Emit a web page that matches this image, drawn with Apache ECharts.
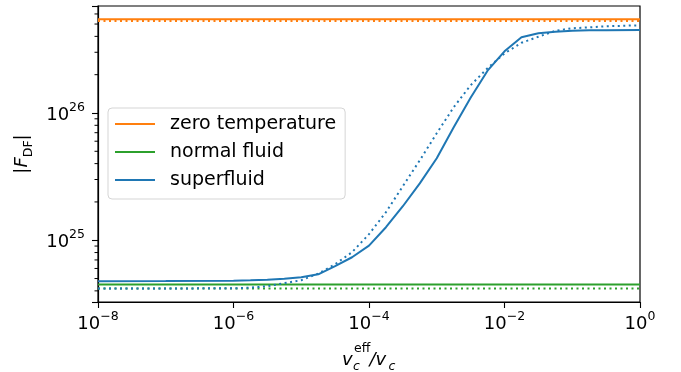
<!DOCTYPE html>
<html>
<head>
<meta charset="utf-8">
<script src="https://cdn.jsdelivr.net/npm/echarts@6/dist/echarts.min.js"></script>
<style>
  html, body { margin: 0; padding: 0; background: #fff; }
  #chart { width: 681px; height: 372px; }
</style>
</head>
<body>
<div id="chart"></div>
<script>
// flat reference lines (two end points)
var xFlat = [1e-8, 1];
var zeroTempSolid = [5.45e26, 5.45e26];
var zeroTempDotted = [5.28e26, 5.28e26];
var normalSolid = [4.49e24, 4.49e24];
var normalDotted = [4.18e24, 4.18e24];

// superfluid curve
var xSuper = [1e-8, 1e-7, 1e-6, 1.78e-6, 3.16e-6, 5.62e-6, 1e-5, 1.78e-5, 3.16e-5, 5.62e-5,
  1e-4, 1.78e-4, 3.16e-4, 5.62e-4, 1e-3, 1.78e-3, 3.16e-3, 5.62e-3,
  1e-2, 1.78e-2, 3.16e-2, 5.62e-2, 1e-1, 1.78e-1, 3.16e-1, 1];
var superSolid = [4.77e24, 4.78e24, 4.81e24, 4.85e24, 4.90e24, 4.99e24, 5.12e24, 5.40e24, 6.25e24, 7.35e24,
  9.06e24, 1.265e25, 1.85e25, 2.80e25, 4.41e25, 7.72e25, 1.316e26, 2.15e26,
  3.05e26, 3.94e26, 4.23e26, 4.34e26, 4.43e26, 4.46e26, 4.47e26, 4.49e26];
var superDotted = [4.18e24, 4.18e24, 4.19e24, 4.24e24, 4.35e24, 4.60e24, 4.85e24, 5.46e24, 6.48e24, 8.05e24,
  1.116e25, 1.66e25, 2.66e25, 4.25e25, 6.93e25, 1.11e26, 1.65e26, 2.25e26,
  2.94e26, 3.56e26, 3.97e26, 4.43e26, 4.63e26, 4.71e26, 4.80e26, 4.89e26];

var legendNames = ['zero temperature', 'normal fluid', 'superfluid'];
var yMinorTicks = [4e24, 5e24, 6e24, 7e24, 8e24, 9e24,
  2e25, 3e25, 4e25, 5e25, 6e25, 7e25, 8e25, 9e25,
  2e26, 3e26, 4e26, 5e26, 6e26];

var FONT = 'DejaVu Sans';
var ORANGE = '#ff7f0e', GREEN = '#2ca02c', BLUE = '#1f77b4';

function pairs(xs, ys) {
  return xs.map(function(x, i) { return [x, ys[i]]; });
}

function powLabel(value) {
  var e = Math.log10(value);
  var n = Math.round(e);
  if (Math.abs(e - n) > 1e-6) return '';
  return '{b|10}{s|' + String(n).replace('-', '\u2212') + '}';
}

var labelRich = {
  b: { fontFamily: FONT, fontSize: 18, color: '#000', verticalAlign: 'bottom', lineHeight: 23 },
  s: { fontFamily: FONT, fontSize: 12.5, color: '#000', verticalAlign: 'top', lineHeight: 12 }
};

function lineSeries(name, data, color, dotted) {
  return {
    name: name,
    type: 'line',
    data: data,
    symbol: 'none',
    silent: true,
    animation: false,
    lineStyle: { color: color, width: 2, type: dotted ? [2, 3.5] : 'solid', cap: 'butt' },
    itemStyle: { color: color }
  };
}

var chart = echarts.init(document.getElementById('chart'));

var option = {
  backgroundColor: '#fff',
  animation: false,
  grid: {
    left: 98, right: 41, top: 6, bottom: 70,
    show: true, borderColor: '#000', borderWidth: 1.2, backgroundColor: 'transparent'
  },
  legend: {
    data: legendNames,
    orient: 'vertical',
    left: 108, top: 108,
    padding: [6, 9, 9, 7],
    icon: 'rect',
    itemWidth: 40, itemHeight: 2, itemGap: 8,
    backgroundColor: 'rgba(255,255,255,0.8)',
    borderColor: '#d5d5d5', borderWidth: 1, borderRadius: 4,
    textStyle: { fontFamily: FONT, fontSize: 19, lineHeight: 20, color: '#000', padding: [0, 0, 0, 10] }
  },
  xAxis: {
    type: 'log',
    logBase: 10,
    min: 1e-8, max: 1,
    interval: 2,
    axisLine: { show: true, lineStyle: { color: '#000', width: 1.2 } },
    axisTick: { show: true, inside: false, length: 6, lineStyle: { color: '#000', width: 1.1 } },
    splitLine: { show: false },
    axisLabel: { margin: 8, formatter: powLabel, rich: labelRich, showMinLabel: true, showMaxLabel: true }
  },
  yAxis: {
    type: 'log',
    logBase: 10,
    min: 3.27e24, max: 6.93e26,
    axisLine: { show: true, lineStyle: { color: '#000', width: 1.2 } },
    axisTick: { show: true, inside: false, length: 6, lineStyle: { color: '#000', width: 1.1 } },
    splitLine: { show: false },
    axisLabel: { margin: 13, formatter: powLabel, rich: labelRich },
    name: '{n||}{i|F}{sub|DF}{n||}',
    nameLocation: 'middle',
    nameGap: 60,
    nameRotate: 90,
    nameTextStyle: {
      rich: {
        n: { fontFamily: FONT, fontSize: 18, color: '#000', verticalAlign: 'top', lineHeight: 22 },
        i: { fontFamily: FONT, fontSize: 18, fontStyle: 'italic', color: '#000', verticalAlign: 'top', lineHeight: 22 },
        sub: { fontFamily: FONT, fontSize: 12.5, color: '#000', verticalAlign: 'bottom', lineHeight: 12 }
      }
    }
  },
  series: [
    lineSeries('zero temperature', pairs(xFlat, zeroTempSolid), ORANGE, false),
    lineSeries('zero temperature dotted', pairs(xFlat, zeroTempDotted), ORANGE, true),
    lineSeries('normal fluid', pairs(xFlat, normalSolid), GREEN, false),
    lineSeries('normal fluid dotted', pairs(xFlat, normalDotted), GREEN, true),
    lineSeries('superfluid', pairs(xSuper, superSolid), BLUE, false),
    lineSeries('superfluid dotted', pairs(xSuper, superDotted), BLUE, true)
  ]
};

chart.setOption(option);

// minor ticks on the log y axis and the x axis title
var graphics = [];
var axisX = chart.convertToPixel({ xAxisIndex: 0 }, 1e-8);
yMinorTicks.forEach(function(v) {
  var py = chart.convertToPixel({ yAxisIndex: 0 }, v);
  graphics.push({
    type: 'line',
    silent: true,
    shape: { x1: axisX - 3.5, y1: py, x2: axisX, y2: py },
    style: { stroke: '#000', lineWidth: 1 }
  });
});

graphics.push(
  { type: 'text', silent: true, style: { text: 'v', x: 342, y: 360, font: 'italic 18px "DejaVu Sans"', fill: '#000', textVerticalAlign: 'middle' } },
  { type: 'text', silent: true, style: { text: 'eff', x: 354, y: 349, font: '12.5px "DejaVu Sans"', fill: '#000', textVerticalAlign: 'middle' } },
  { type: 'text', silent: true, style: { text: 'c', x: 353, y: 367, font: 'italic 12.5px "DejaVu Sans"', fill: '#000', textVerticalAlign: 'middle' } },
  { type: 'text', silent: true, style: { text: '/v', x: 369.5, y: 360, font: 'italic 18px "DejaVu Sans"', fill: '#000', textVerticalAlign: 'middle' } },
  { type: 'text', silent: true, style: { text: 'c', x: 388.5, y: 367, font: 'italic 12.5px "DejaVu Sans"', fill: '#000', textVerticalAlign: 'middle' } }
);

chart.setOption({ graphic: graphics });
</script>
</body>
</html>
